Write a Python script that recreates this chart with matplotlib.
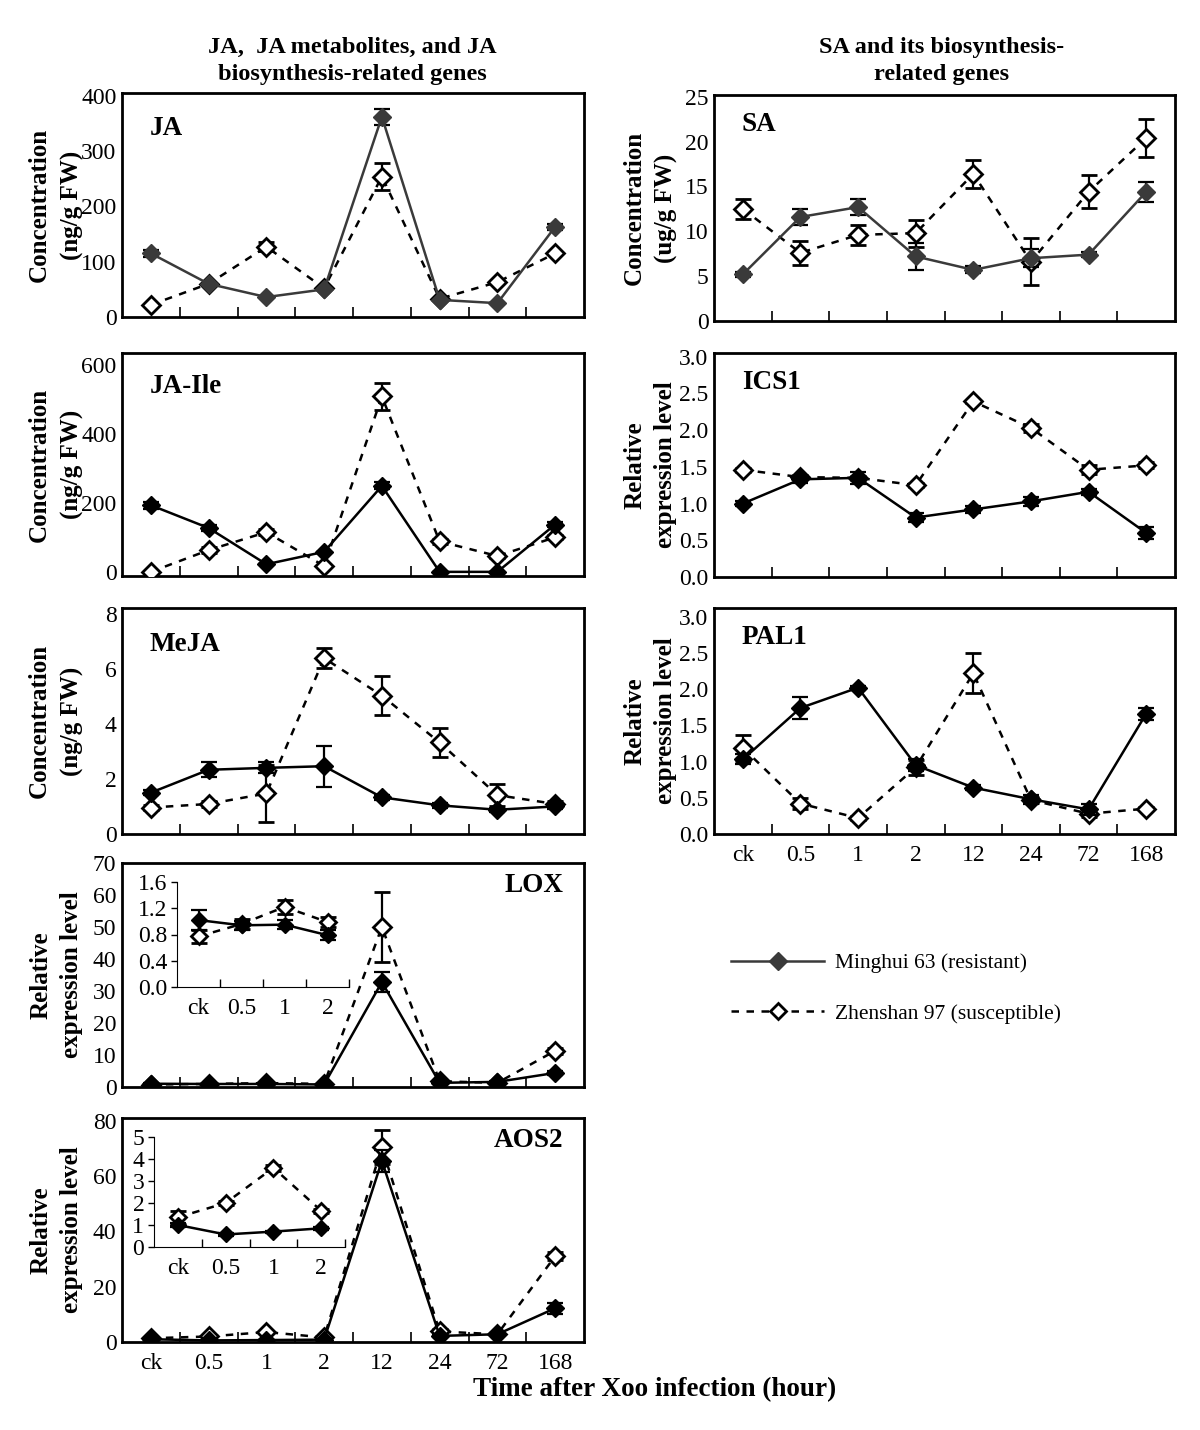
import matplotlib
matplotlib.use('Agg')
import matplotlib.pyplot as plt
from matplotlib.lines import Line2D

plt.rcParams['font.family'] = ['Liberation Serif', 'DejaVu Serif']

# time points after infection
times = ['ck', '0.5', '1', '2', '12', '24', '72', '168']

# JA (ng/g FW)
ja_mh = [115, 60, 36, 50, 362, 31, 25, 163]
ja_mh_err = [6, 0, 0, 0, 14, 0, 0, 5]
ja_zs = [22, 60, 127, 52, 254, 33, 63, 115]
ja_zs_err = [0, 0, 8, 0, 25, 0, 0, 0]

# JA-Ile (ng/g FW)
jaile_mh = [193, 127, 22, 58, 249, 0, 0, 137]
jaile_mh_err = [10, 8, 0, 0, 10, 0, 0, 8]
jaile_zs = [0, 63, 115, 17, 508, 88, 46, 100]
jaile_zs_err = [0, 8, 8, 0, 38, 8, 6, 6]

# MeJA (ng/g FW)
meja_mh = [1.5, 2.33, 2.4, 2.46, 1.33, 1.04, 0.88, 1.0]
meja_mh_err = [0.1, 0.27, 0.2, 0.75, 0.08, 0.1, 0.08, 0.08]
meja_zs = [0.96, 1.09, 1.47, 6.38, 5.02, 3.32, 1.41, 1.09]
meja_zs_err = [0.08, 0.12, 1.05, 0.37, 0.7, 0.53, 0.4, 0.1]

# LOX relative expression
lox_mh = [1.02, 0.94, 0.95, 0.79, 32.8, 1.3, 1.6, 4.4]
lox_mh_err = [0.15, 0.07, 0.07, 0.08, 3.0, 0.3, 0.2, 0.6]
lox_zs = [0.77, 0.96, 1.22, 0.99, 50, 1.8, 1.3, 11.3]
lox_zs_err = [0.1, 0.07, 0.11, 0.07, 11, 0.3, 0.2, 1.0]

# AOS2 relative expression
aos2_mh = [1.0, 0.57, 0.7, 0.85, 65.5, 2.2, 2.8, 12.2]
aos2_mh_err = [0.1, 0.05, 0.05, 0.08, 4, 0.5, 0.3, 2]
aos2_zs = [1.35, 2.0, 3.6, 1.65, 70.5, 3.8, 2.8, 31]
aos2_zs_err = [0.3, 0.1, 0.15, 0.1, 6, 1, 0.3, 1.5]

# SA (ug/g FW)
sa_mh = [5.2, 11.6, 12.7, 7.2, 5.7, 7.0, 7.4, 14.4]
sa_mh_err = [0.3, 0.9, 0.9, 1.5, 0.4, 1.0, 0.3, 1.1]
sa_zs = [12.5, 7.6, 9.6, 9.8, 16.4, 6.6, 14.4, 20.4]
sa_zs_err = [1.1, 1.35, 1.1, 1.5, 1.6, 2.6, 1.85, 2.1]

# ICS1 relative expression
ics1_mh = [1.0, 1.33, 1.35, 0.81, 0.92, 1.03, 1.16, 0.6]
ics1_mh_err = [0.04, 0.05, 0.08, 0.06, 0.05, 0.06, 0.04, 0.08]
ics1_zs = [1.46, 1.36, 1.35, 1.25, 2.39, 2.03, 1.46, 1.52]
ics1_zs_err = [0.03, 0.03, 0.03, 0.03, 0.02, 0.05, 0.06, 0.04]

# PAL1 relative expression
pal1_mh = [1.03, 1.74, 2.02, 0.95, 0.64, 0.48, 0.34, 1.66]
pal1_mh_err = [0.07, 0.15, 0.03, 0.08, 0.03, 0.06, 0.08, 0.08]
pal1_zs = [1.19, 0.42, 0.22, 0.92, 2.22, 0.47, 0.28, 0.35]
pal1_zs_err = [0.18, 0.08, 0.03, 0.1, 0.28, 0.04, 0.05, 0.02]

W, H = 1200, 1430
fig = plt.figure(figsize=(W / 100, H / 100), dpi=100)


def box(l, t, r, b):
    return [l / W, 1 - b / H, (r - l) / W, (b - t) / H]


def draw(ax, mh, mh_err, zs, zs_err, color='black', n=8, ms=9):
    x = list(range(n))
    ax.errorbar(x, zs[:n], yerr=zs_err[:n], color='black', ls=(0, (3, 3)), lw=1.8,
                marker='D', ms=ms, mfc='white', mec='black', mew=2,
                ecolor='black', elinewidth=1.6, capsize=6, capthick=1.6, zorder=3)
    ax.errorbar(x, mh[:n], yerr=mh_err[:n], color=color, ls='-', lw=1.8,
                marker='D', ms=ms, mfc=color, mec=color,
                ecolor='black', elinewidth=1.6, capsize=6, capthick=1.6, zorder=4)


def style(ax, ylim, yticks, ytl, ylabel, labx, name, name_right=False, xlabels=False,
          namey=0.87, lsp=1.4):
    ax.set_xlim(-0.5, 7.5)
    ax.set_ylim(*ylim)
    ax.set_yticks(yticks)
    ax.set_yticklabels(ytl)
    ax.set_xticks(range(8))
    ax.set_xticklabels(times if xlabels else [])
    ax.set_xticks([i + 0.5 for i in range(7)], minor=True)
    ax.tick_params(axis='x', which='major', length=0, labelsize=17, pad=8)
    ax.tick_params(axis='x', which='minor', direction='in', length=7, width=1.2)
    ax.tick_params(axis='y', length=0, labelsize=17, pad=4)
    for s in ax.spines.values():
        s.set_linewidth(2)
    ax.set_ylabel(ylabel, fontsize=18, fontweight='bold', linespacing=lsp)
    ax.yaxis.set_label_coords(labx, 0.5)
    if name_right:
        ax.text(0.955, 0.9, name, transform=ax.transAxes, ha='right', va='center',
                fontsize=19.5, fontweight='bold')
    else:
        ax.text(0.06, namey, name, transform=ax.transAxes, ha='left', va='center',
                fontsize=19.5, fontweight='bold')


def inset(rect, mh, mh_err, zs, zs_err, ylim, yticks, ytl):
    ax = fig.add_axes(rect)
    draw(ax, mh, mh_err, zs, zs_err, n=4, ms=8)
    ax.set_xlim(-0.5, 3.5)
    ax.set_ylim(*ylim)
    ax.set_yticks(yticks)
    ax.set_yticklabels(ytl)
    ax.set_xticks(range(4))
    ax.set_xticklabels(times[:4])
    ax.set_xticks([0.5, 1.5, 2.5, 3.5], minor=True)
    ax.tick_params(axis='x', which='major', length=0, labelsize=17, pad=8)
    ax.tick_params(axis='x', which='minor', direction='in', length=6, width=1)
    ax.tick_params(axis='y', direction='out', length=4, width=1, labelsize=17, pad=3)
    ax.spines['top'].set_visible(False)
    ax.spines['right'].set_visible(False)
    ax.patch.set_alpha(0)
    return ax


conc_ng = 'Concentration\n(ng/g FW)'
rel = 'Relative\nexpression level'

# left column
ax = fig.add_axes(box(122, 93, 584, 317))
draw(ax, ja_mh, ja_mh_err, ja_zs, ja_zs_err, color='#3a3a3a')
style(ax, (0, 405), [0, 100, 200, 300, 400], ['0', '100', '200', '300', '400'], conc_ng,
      -0.083, 'JA', namey=0.84, lsp=1.5)

ax = fig.add_axes(box(122, 353, 584, 576))
draw(ax, jaile_mh, jaile_mh_err, jaile_zs, jaile_zs_err)
style(ax, (-12, 634), [0, 200, 400, 600], ['0', '200', '400', '600'], conc_ng, -0.083,
      'JA-Ile', namey=0.85, lsp=1.5)

ax = fig.add_axes(box(122, 608, 584, 834))
draw(ax, meja_mh, meja_mh_err, meja_zs, meja_zs_err)
style(ax, (0, 8.2), [0, 2, 4, 6, 8], ['0', '2', '4', '6', '8'], conc_ng, -0.083, 'MeJA',
      namey=0.84, lsp=1.5)

ax = fig.add_axes(box(122, 863, 584, 1087))
draw(ax, lox_mh, lox_mh_err, lox_zs, lox_zs_err)
style(ax, (0, 70), range(0, 71, 10), [str(v) for v in range(0, 71, 10)], rel, -0.085, 'LOX',
      name_right=True)
inset(box(177, 882, 349, 987), lox_mh, lox_mh_err, lox_zs, lox_zs_err, (0, 1.6),
      [0, 0.4, 0.8, 1.2, 1.6], ['0.0', '0.4', '0.8', '1.2', '1.6'])

ax = fig.add_axes(box(122, 1118, 584, 1342))
draw(ax, aos2_mh, aos2_mh_err, aos2_zs, aos2_zs_err)
style(ax, (0, 81), [0, 20, 40, 60, 80], ['0', '20', '40', '60', '80'], rel, -0.085, 'AOS2',
      name_right=True, xlabels=True)
inset(box(154, 1137, 345, 1247), aos2_mh, aos2_mh_err, aos2_zs, aos2_zs_err, (0, 5),
      [0, 1, 2, 3, 4, 5], ['0', '1', '2', '3', '4', '5'])

# right column
ax = fig.add_axes(box(714, 95, 1175, 321))
draw(ax, sa_mh, sa_mh_err, sa_zs, sa_zs_err, color='#3a3a3a')
style(ax, (0, 25.2), [0, 5, 10, 15, 20, 25], ['0', '5', '10', '15', '20', '25'],
      'Concentration\n(ug/g FW)', -0.078, 'SA', lsp=1.5)

ax = fig.add_axes(box(714, 353, 1175, 577))
draw(ax, ics1_mh, ics1_mh_err, ics1_zs, ics1_zs_err)
style(ax, (0, 3.05), [0, 0.5, 1, 1.5, 2, 2.5, 3], ['0.0', '0.5', '1.0', '1.5', '2.0', '2.5', '3.0'],
      rel, -0.08, 'ICS1')

ax = fig.add_axes(box(714, 608, 1175, 834))
draw(ax, pal1_mh, pal1_mh_err, pal1_zs, pal1_zs_err)
style(ax, (0, 3.12), [0, 0.5, 1, 1.5, 2, 2.5, 3], ['0.0', '0.5', '1.0', '1.5', '2.0', '2.5', '3.0'],
      rel, -0.08, 'PAL1', xlabels=True)

# column titles
fig.text(352 / W, 1 - 61 / H, 'JA,  JA metabolites, and JA\nbiosynthesis-related genes',
         ha='center', va='center', fontsize=17.5, fontweight='bold', linespacing=1.35)
fig.text(942 / W, 1 - 61 / H, 'SA and its biosynthesis-\nrelated genes',
         ha='center', va='center', fontsize=17.5, fontweight='bold', linespacing=1.35)

# shared x label
fig.text(655 / W, 1 - 1390 / H, 'Time after Xoo infection (hour)', ha='center', va='center',
         fontsize=19.5, fontweight='bold')

# legend
handles = [
    Line2D([], [], color='#3a3a3a', ls='-', lw=1.8, marker='D', ms=9, mfc='#3a3a3a'),
    Line2D([], [], color='black', ls=(0, (3, 3)), lw=1.8, marker='D', ms=8, mfc='white', mew=2),
]
fig.legend(handles, ['Minghui 63 (resistant)', 'Zhenshan 97 (susceptible)'],
           loc='upper left', bbox_to_anchor=(712 / W, 1 - 934 / H), frameon=False,
           fontsize=15.5, handlelength=4.3, labelspacing=1.4, handletextpad=0.5)

fig.savefig('out.png', dpi=100)
